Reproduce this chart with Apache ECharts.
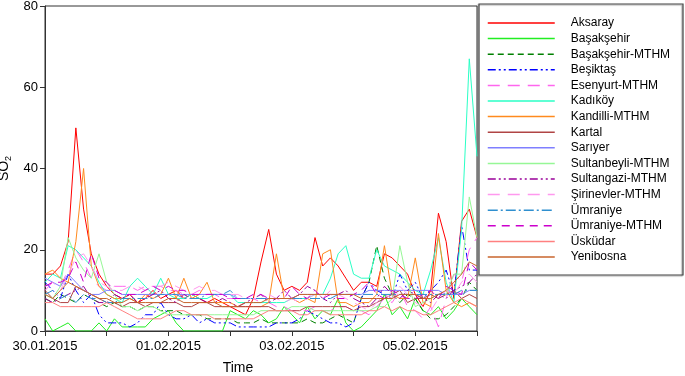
<!DOCTYPE html>
<html>
<head>
<meta charset="utf-8">
<script src="https://cdn.jsdelivr.net/npm/echarts@6/dist/echarts.min.js"></script>
<style>
html, body { margin: 0; padding: 0; background: #fff; }
#main { width: 685px; height: 376px; }
</style>
</head>
<body>
<div id="main"></div>
<script>
// SO2 hourly readings, sampled every 3 hours from 30.01.2015 00:00 to 06.02.2015 00:00
var stepHours = 3;
var xTickLabels = ['30.01.2015', '', '01.02.2015', '', '03.02.2015', '', '05.02.2015', ''];
var yTicks = [0, 20, 40, 60, 80];

var stationNames = ['Aksaray', 'Başakşehir', 'Başakşehir-MTHM', 'Beşiktaş', 'Esenyurt-MTHM', 'Kadıköy',
    'Kandilli-MTHM', 'Kartal', 'Sarıyer', 'Sultanbeyli-MTHM', 'Sultangazi-MTHM', 'Şirinevler-MTHM',
    'Ümraniye', 'Ümraniye-MTHM', 'Üsküdar', 'Yenibosna'];

var aksaray = [14,14,16,22,50,30,19,14, 11,9,8,9,7,8,10,8, 9,10,8,9,8,7,8,7, 6,5,4,8,17,25,14,10,
    11,10,12,23,16,18,16,13, 10,12,12,11,19,18,16,14, 9,6,10,29,22,8,27,30, 23];
var basaksehir = [3,0,1,2,0,0,0,2, 0,3,1,1,1,1,3,4, 5,2,0,0,0,0,0,0, 5,4,3,5,4,2,3,6,
    4,2,6,3,5,4,8,2, 0,1,3,5,9,4,6,3, 8,5,4,6,3,5,8,6, 4];
var basaksehirMthm = [8,7,9,8,7,9,8,7, 6,7,6,6,5,6,6,5, 5,5,4,4,4,3,3,3, 3,2,2,2,3,2,2,2,
    2,2,3,2,2,3,4,3, 2,8,12,21,13,9,7,9, 8,5,3,3,4,6,8,12, 10];
var besiktas = [12,10,8,14,10,7,9,4, 2,2,2,1,2,4,4,7, 4,3,3,4,2,3,2,2, 2,1,1,1,1,1,2,2,
    2,3,5,4,3,2,2,1, 2,8,12,10,9,8,14,10, 12,8,10,12,15,9,26,15, 15];
var esenyurtMthm = [10,12,11,15,20,17,13,11, 10,11,11,11,10,11,11,11, 10,10,9,9,10,9,9,8, 8,8,8,8,7,7,6,6,
    5,5,5,6,5,5,6,6, 5,5,4,6,8,7,10,6, 5,3,6,1,8,14,12,20, 23];
var kadikoy = [12,14,13,21,20,18,16,12, 9,8,7,11,13,11,9,13, 9,8,8,9,8,8,9,9, 9,7,7,7,7,7,7,7,
    8,8,8,9,9,13,19,21, 14,13,13,20,16,15,14,12, 10,9,15,23,12,7,25,67, 43];
var kandilliMthm = [14,15,13,12,22,40,16,11, 9,8,8,8,7,9,8,9, 13,8,13,8,9,12,7,7, 7,6,6,6,6,7,19,8,
    8,7,8,7,19,20,7,7, 6,7,7,9,21,9,8,8, 18,7,6,24,10,7,6,7, 6];
var kartal = [10,8,7,7,11,10,9,8, 7,7,6,7,7,6,7,7, 7,7,6,6,7,7,6,6, 6,6,6,6,6,6,5,5,
    5,5,6,6,6,6,6,6, 5,6,6,7,8,9,10,7, 8,8,9,8,9,10,8,9, 8];
var sariyer = [13,12,11,14,12,10,9,9, 10,10,9,9,9,9,9,9, 9,9,9,9,9,9,9,9, 9,8,8,8,8,8,8,8,
    8,9,9,9,9,9,9,9, 9,9,10,10,10,10,10,10, 10,10,10,10,9,9,9,10, 10];
var sultanbeyliMthm = [9,8,11,23,18,15,13,19, 12,9,6,6,5,6,6,5, 4,4,4,4,4,4,4,4, 4,4,4,4,5,5,5,5,
    6,6,6,5,5,5,5,5, 5,5,5,6,6,8,21,12, 6,7,8,9,9,14,14,33, 23];
var sultangaziMthm = [8,7,8,9,10,11,8,7, 7,9,8,9,7,8,9,10, 8,7,9,8,8,7,7,8, 7,6,7,8,9,7,8,10,
    8,9,11,10,8,7,9,10, 8,7,6,8,11,9,8,10, 9,8,7,9,8,10,11,12, 14];
var sirinevlerMthm = [11,12,10,14,18,19,16,12, 11,10,10,11,11,10,11,11, 12,11,10,10,11,10,10,9, 9,9,8,8,8,9,8,7,
    8,7,8,9,8,10,9,8, 7,6,5,7,9,8,11,9, 7,6,5,8,10,9,12,14, 12];
var umraniye = [9,10,8,9,7,9,8,8, 7,7,8,8,8,8,8,9, 9,9,8,8,8,9,9,9, 10,8,8,8,8,8,8,8,
    8,8,8,8,8,8,9,9, 9,9,9,9,9,9,9,9, 9,9,9,9,9,9,10,10, 10];
var umraniyeMthm = [11,12,12,13,17,12,19,13, 12,10,9,9,9,10,11,10, 11,10,10,9,9,9,9,9, 8,8,8,9,9,8,8,8,
    11,9,8,10,8,9,8,8, 9,10,12,9,8,10,9,8, 8,9,10,8,11,10,9,17, 15];
var uskudar = [7,7,6,6,6,6,6,6, 7,6,5,4,3,3,3,3, 4,5,5,4,4,4,3,3, 3,3,3,3,4,5,5,5,
    5,4,4,5,5,4,4,4, 4,4,5,5,6,5,6,5, 5,4,4,5,6,7,8,7, 6];
var yenibosna = [9,8,10,12,11,10,9,8, 8,7,7,8,7,7,7,7, 8,8,7,7,7,7,7,6, 6,6,7,7,7,8,8,8,
    8,9,9,9,9,9,9,9, 9,8,8,8,8,8,9,9, 9,8,8,9,10,12,14,17, 16];

var allValues = [aksaray, basaksehir, basaksehirMthm, besiktas, esenyurtMthm, kadikoy, kandilliMthm, kartal,
    sariyer, sultanbeyliMthm, sultangaziMthm, sirinevlerMthm, umraniye, umraniyeMthm, uskudar, yenibosna];

var colors = ['#ff0000', '#22ee22', '#008000', '#0000ff', '#ff66ee', '#2affc6', '#ff8a1e', '#b04444',
    '#7f7fff', '#96f796', '#990099', '#ff99ee', '#2f8fcf', '#cc00cc', '#ff8080', '#c8642d'];
var dashes = ['solid', 'solid', [6, 4], [8, 3, 2, 3, 2, 3], [12, 8], 'solid', 'solid', 'solid',
    'solid', 'solid', [8, 3, 2, 3, 2, 3], [12, 8], [10, 3, 2, 3], [8, 6], 'solid', 'solid'];

var myChart = echarts.init(document.getElementById('main'));

var series = stationNames.map(function (name, k) {
    return {
        name: name,
        type: 'line',
        symbol: 'none',
        smooth: false,
        data: allValues[k].map(function (v, i) { return [i * stepHours, v]; }),
        lineStyle: { color: colors[k], width: 1, type: dashes[k] },
        itemStyle: { color: colors[k] }
    };
});

myChart.setOption({
    animation: false,
    backgroundColor: '#fff',
    grid: {
        left: 45, right: 208, top: 6, bottom: 45,
        outerBoundsMode: 'none',
        containLabel: false,
        show: true, borderColor: '#333', borderWidth: 1
    },
    legend: {
        orient: 'vertical',
        left: 479,
        top: 5,
        itemWidth: 67,
        itemHeight: 10,
        itemGap: 3.6,
        padding: [12, 10, 12, 8],
        data: stationNames,
        itemStyle: { color: 'rgba(0,0,0,0)', borderWidth: 0 },
        lineStyle: { width: 1.5 },
        textStyle: {
            fontSize: 12, color: '#000', fontFamily: 'Liberation Sans, Arial, sans-serif',
            padding: [0, 0, 0, 11]
        }
    },
    graphic: [{
        type: 'rect',
        shape: { x: 479, y: 4, width: 204, height: 271 },
        style: { fill: 'none', stroke: '#444', lineWidth: 1.2, shadowColor: 'rgba(0,0,0,0.35)', shadowOffsetX: -1, shadowOffsetY: 1, shadowBlur: 1 },
        silent: true
    }],
    xAxis: {
        type: 'value',
        min: 0,
        max: 168,
        interval: 24,
        name: 'Time',
        nameLocation: 'middle',
        nameGap: 30,
        nameTextStyle: { fontSize: 14, color: '#000', fontFamily: 'Liberation Sans, Arial, sans-serif', padding: [0, 46, 0, 0] },
        axisLine: { lineStyle: { color: '#333' } },
        axisTick: { show: true, length: 5, lineStyle: { color: '#333' } },
        axisLabel: {
            fontSize: 13, color: '#000', fontFamily: 'Liberation Sans, Arial, sans-serif', margin: 9,
            formatter: function (v) { return xTickLabels[Math.round(v / 24)] || ''; }
        },
        splitLine: { show: false }
    },
    yAxis: {
        type: 'value',
        min: yTicks[0],
        max: yTicks[yTicks.length - 1],
        interval: 20,
        name: '{a|SO}{b|2}',
        nameLocation: 'middle',
        nameGap: 30,
        nameRotate: 90,
        nameTextStyle: {
            rich: {
                a: { fontSize: 14, color: '#000', fontFamily: 'Liberation Sans, Arial, sans-serif' },
                b: { fontSize: 9, color: '#000', fontFamily: 'Liberation Sans, Arial, sans-serif', padding: [7, 0, 0, 0] }
            }
        },
        axisLine: { show: true, lineStyle: { color: '#333' } },
        axisTick: { show: true, length: 5, lineStyle: { color: '#333' } },
        axisLabel: { fontSize: 13, color: '#000', fontFamily: 'Liberation Sans, Arial, sans-serif', margin: 7 },
        splitLine: { show: false }
    },
    series: series
});
</script>
</body>
</html>
